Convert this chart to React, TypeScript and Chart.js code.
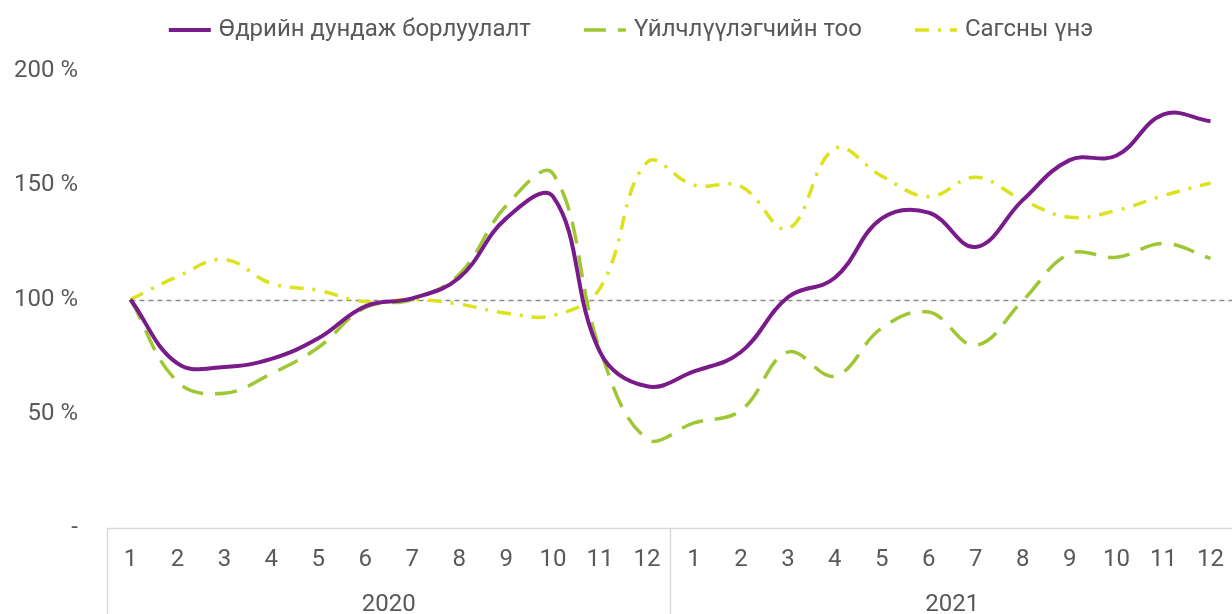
import React, { useEffect, useRef } from 'react';
import { Chart, registerables } from 'chart.js';

Chart.register(...registerables);

// ---- data ----
const MONTHS = ['1', '2', '3', '4', '5', '6', '7', '8', '9', '10', '11', '12', '1', '2', '3', '4', '5', '6', '7', '8', '9', '10', '11', '12'];
const YEARS = ['2020', '2021'];
const SERIES_LABELS = ['Өдрийн дундаж борлуулалт', 'Үйлчлүүлэгчийн тоо', 'Сагсны үнэ'];
const SALES = [100, 72, 70.5, 74, 83, 97, 100.5, 109.5, 135.5, 145, 77, 62, 68.5, 77, 101, 109.5, 135.5, 138, 123, 143.5, 161, 163, 181, 178];
const CUSTOMERS = [100, 64, 59, 67.5, 79, 96.5, 100, 111, 141, 155, 78, 39, 46, 51.5, 77, 66.5, 87.5, 94.5, 80, 99.5, 120, 118.5, 124.5, 118];
const BASKET = [100, 110, 117.5, 107, 104, 99, 100, 98, 94, 93, 105, 160, 150, 149.5, 131, 166, 154, 145, 153.5, 143.5, 136, 139, 145.5, 151];
const Y_MIN = 0;
const Y_MAX = 200;
const Y_STEP = 50;
const REFERENCE = 100;

// ---- styles ----
const FONT = 'Roboto, "Noto Sans", "DejaVu Sans", sans-serif';
const TEXT = '#595959';
const PURPLE = '#7a1b8b';
const GREEN = '#9ec733';
const YELLOW = '#dce21d';
const FONT_SIZE = 24;

const decorPlugin = {
  id: 'decor',
  beforeDatasetsDraw(chart: any) {
    const { ctx, chartArea, scales } = chart;
    const x = scales.x;
    const y = scales.y;
    const yp = Math.round(y.getPixelForValue(REFERENCE)) + 0.5;
    ctx.save();
    ctx.strokeStyle = '#8a8a8a';
    ctx.lineWidth = 1.5;
    ctx.setLineDash([5, 4]);
    ctx.beginPath();
    ctx.moveTo(x.getPixelForValue(0), yp);
    ctx.lineTo(chartArea.right, yp);
    ctx.stroke();
    ctx.restore();
  },
  afterDraw(chart: any) {
    const { ctx, chartArea, scales } = chart;
    const x = scales.x;
    const H = chart.height;
    ctx.save();
    // axis box
    ctx.strokeStyle = '#d9d9d9';
    ctx.lineWidth = 1.5;
    ctx.setLineDash([]);
    ctx.beginPath();
    const by = Math.round(chartArea.bottom) + 0.5;
    ctx.moveTo(chartArea.left, by);
    ctx.lineTo(chartArea.right, by);
    const per = MONTHS.length / YEARS.length;
    for (let g = 0; g <= YEARS.length; g++) {
      const idx = g * per;
      let px: number;
      if (idx === 0) px = chartArea.left;
      else if (idx >= MONTHS.length) px = chartArea.right;
      else px = (x.getPixelForValue(idx - 1) + x.getPixelForValue(idx)) / 2;
      px = Math.round(px) + 0.5;
      ctx.moveTo(px, chartArea.bottom);
      ctx.lineTo(px, H);
    }
    ctx.stroke();

    // year labels
    ctx.fillStyle = TEXT;
    ctx.font = `${FONT_SIZE}px ${FONT}`;
    ctx.textAlign = 'center';
    ctx.textBaseline = 'middle';
    YEARS.forEach((yr, g) => {
      const a = x.getPixelForValue(g * per);
      const b = x.getPixelForValue(g * per + per - 1);
      ctx.fillText(yr, (a + b) / 2, chartArea.bottom + 77);
    });

    // legend
    const sampleW = 42;
    const gapText = 8;
    const gapItem = 53;
    const items = chart.data.datasets.map((ds: any) => ({
      text: ds.label,
      color: ds.borderColor,
      dash: ds.borderDash || [],
      width: ds.borderWidth,
      tw: ctx.measureText(ds.label).width,
    }));
    const total = items.reduce((s: number, it: any) => s + sampleW + gapText + it.tw, 0) + gapItem * (items.length - 1);
    let cx = 631 - total / 2;
    const ly = 30;
    items.forEach((it: any) => {
      ctx.strokeStyle = it.color;
      ctx.lineWidth = it.width;
      ctx.setLineDash(it.dash);
      ctx.beginPath();
      ctx.moveTo(cx, ly);
      ctx.lineTo(cx + sampleW, ly);
      ctx.stroke();
      ctx.setLineDash([]);
      ctx.fillStyle = TEXT;
      ctx.textAlign = 'left';
      ctx.fillText(it.text, cx + sampleW + gapText, ly);
      cx += sampleW + gapText + it.tw + gapItem;
    });
    ctx.restore();
  },
};

export default function App() {
  const ref = useRef<HTMLCanvasElement | null>(null);

  useEffect(() => {
    if (!ref.current) return;
    const chart = new Chart(ref.current, {
      type: 'line',
      data: {
        labels: MONTHS,
        datasets: [
          {
            label: SERIES_LABELS[0],
            data: SALES,
            borderColor: PURPLE,
            backgroundColor: PURPLE,
            borderWidth: 4,
            tension: 0.4,
            pointRadius: 0,
            fill: false,
          },
          {
            label: SERIES_LABELS[1],
            data: CUSTOMERS,
            borderColor: GREEN,
            backgroundColor: GREEN,
            borderWidth: 3.5,
            borderDash: [22, 12],
            tension: 0.4,
            pointRadius: 0,
            fill: false,
          },
          {
            label: SERIES_LABELS[2],
            data: BASKET,
            borderColor: YELLOW,
            backgroundColor: YELLOW,
            borderWidth: 3.5,
            borderDash: [14, 9, 3, 9],
            tension: 0.4,
            pointRadius: 0,
            fill: false,
          },
        ],
      },
      options: {
        responsive: false,
        animation: false,
        layout: { padding: { top: 71, left: 0, right: 0, bottom: 0 } },
        plugins: {
          legend: { display: false },
          tooltip: { enabled: false },
        },
        scales: {
          x: {
            type: 'category',
            offset: true,
            grid: { display: false, drawTicks: false },
            border: { display: false },
            ticks: {
              color: TEXT,
              font: { family: FONT, size: FONT_SIZE },
              padding: 18,
              maxRotation: 0,
              autoSkip: false,
            },
            afterFit(scale: any) {
              scale.height = 86;
            },
          },
          y: {
            min: Y_MIN,
            max: Y_MAX,
            grid: { display: false, drawTicks: false },
            border: { display: false },
            ticks: {
              stepSize: Y_STEP,
              color: TEXT,
              font: { family: FONT, size: FONT_SIZE },
              padding: 29,
              callback: (v: any) => (Number(v) === 0 ? '-' : `${v} %`),
            },
            afterFit(scale: any) {
              scale.width = 107;
            },
          },
        },
      },
      plugins: [decorPlugin],
    });
    return () => chart.destroy();
  }, []);

  return (
    <div style={{ position: 'fixed', left: 0, top: 0, width: 1232, height: 614, overflow: 'hidden', background: '#ffffff' }}>
      <canvas ref={ref} width={1242} height={614} style={{ display: 'block' }} />
    </div>
  );
}
